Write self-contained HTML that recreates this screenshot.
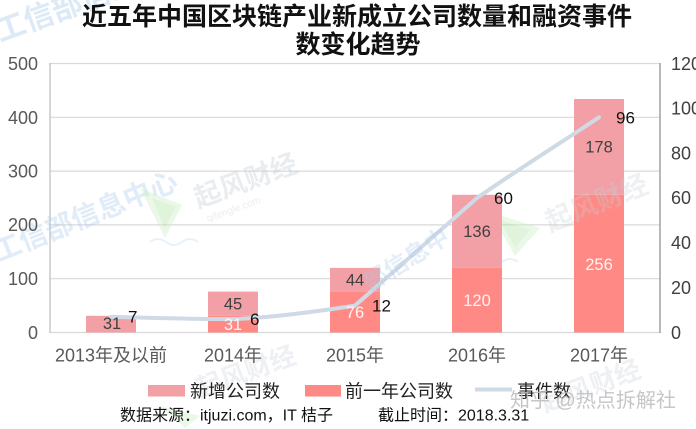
<!DOCTYPE html>
<html>
<head>
<meta charset="utf-8">
<style>
  html,body{margin:0;padding:0;background:#fff;}
  body{width:696px;height:429px;overflow:hidden;}
  svg{display:block;overflow:hidden;}
  text{font-family:"Liberation Sans","Noto Sans CJK SC",sans-serif;}
</style>
</head>
<body>
<svg width="696" height="429" viewBox="0 0 696 429" xmlns="http://www.w3.org/2000/svg">
  <rect width="696" height="429" fill="#ffffff"/>

  <!-- gridlines -->
  <g stroke="#d9d9d9" stroke-width="1.2">
    <line x1="50" y1="63.5" x2="660" y2="63.5"/>
    <line x1="50" y1="117.3" x2="660" y2="117.3"/>
    <line x1="50" y1="171.1" x2="660" y2="171.1"/>
    <line x1="50" y1="224.9" x2="660" y2="224.9"/>
    <line x1="50" y1="278.7" x2="660" y2="278.7"/>
    <line x1="50" y1="332.5" x2="660" y2="332.5"/>
  </g>
  <line x1="50" y1="63" x2="50" y2="333" stroke="#c8c8c8" stroke-width="1.5"/>
  <line x1="660" y1="63" x2="660" y2="333" stroke="#a0a0a0" stroke-width="1.5"/>

  <!-- watermarks (faint) -->
  <g opacity="0.4">
    <text x="0" y="42" font-size="30" font-weight="bold" fill="#a9c9ea" transform="rotate(-20 0 42)">工信部信息中心</text>
    <text x="-2" y="262" font-size="28" font-weight="bold" fill="#b3d0ee" transform="rotate(-22 -2 262)">工信部信息中心</text>
  </g>
  <g opacity="0.4">
    <polygon points="140,188 182,205 165,238" fill="#cdeec6"/>
    <polygon points="152,198 176,207 165,228" fill="#b2e2a8"/>
    <path d="M150,242 q8,-6 16,0 q8,6 16,0 q8,-6 16,0" fill="none" stroke="#bfe0f2" stroke-width="2"/>
    <polygon points="490,212 540,228 515,256" fill="#cdeec6"/>
    <polygon points="500,220 530,230 515,248" fill="#b2e2a8"/>
    <path d="M470,262 q8,-6 16,0 q8,6 16,0 q8,-6 16,0" fill="none" stroke="#bfe0f2" stroke-width="2"/>
    <polygon points="160,406 200,416 185,428" fill="#cdeec6"/>
  </g>
  <g opacity="0.35" fill="#c5ccd6">
    <text x="198" y="208" font-size="27" font-weight="bold" transform="rotate(-20 198 208)">起风财经</text>
    <text x="208" y="222" font-size="10" transform="rotate(-20 208 222)">qifengle.com</text>
  </g>

  <!-- title -->
  <text x="357" y="25" font-size="25" font-weight="bold" text-anchor="middle" fill="#111">近五年中国区块链产业新成立公司数量和融资事件</text>
  <text x="358" y="53" font-size="25" font-weight="bold" text-anchor="middle" fill="#111">数变化趋势</text>

  <!-- left axis labels -->
  <g font-size="18" fill="#595959" text-anchor="end">
    <text x="38" y="70">500</text>
    <text x="38" y="124">400</text>
    <text x="38" y="177.5">300</text>
    <text x="38" y="231">200</text>
    <text x="38" y="285">100</text>
    <text x="38" y="339">0</text>
  </g>
  <!-- right axis labels -->
  <g font-size="18" fill="#404040" text-anchor="start">
    <text x="671" y="70">120</text>
    <text x="671" y="114.5">100</text>
    <text x="671" y="159.5">80</text>
    <text x="671" y="204">60</text>
    <text x="671" y="249">40</text>
    <text x="671" y="294">20</text>
    <text x="671" y="339">0</text>
  </g>

  <!-- bars: 前一年公司数 -->
  <g fill="#ff8a85">
    <rect x="208" y="315.8" width="50" height="16.7"/>
    <rect x="330" y="291.6" width="50" height="40.9"/>
    <rect x="452" y="267.9" width="50" height="64.6"/>
    <rect x="574" y="194.8" width="50" height="137.7"/>
  </g>
  <!-- bars: 新增公司数 -->
  <g fill="#f2a0a5">
    <rect x="86" y="315.8" width="50" height="16.7"/>
    <rect x="208" y="291.6" width="50" height="24.2"/>
    <rect x="330" y="267.9" width="50" height="23.7"/>
    <rect x="452" y="194.8" width="50" height="73.1"/>
    <rect x="574" y="99" width="50" height="95.8"/>
  </g>

  <!-- event line -->
  <path d="M111,316.8 C131,317.2 200,319.5 233,319 C270,318 320,311 355,305.6 L477,198 C520,168 570,137 599,117.3"
        fill="none" stroke="#d0d9e6" stroke-width="4" stroke-linecap="round" stroke-linejoin="round"/>

  <!-- overlay watermarks -->
  <g opacity="0.3">
    <text x="370" y="292" font-size="24" font-weight="bold" fill="#a9c9ea" transform="rotate(-32 370 292)">部信息中</text>
  </g>
  <g opacity="0.3" fill="#c5ccd6">
    <text x="550" y="232" font-size="27" font-weight="bold" transform="rotate(-22 550 232)">起风财经</text>
    <text x="200" y="398" font-size="26" font-weight="bold" transform="rotate(-20 200 398)">起风财经</text>
    <text x="545" y="412" font-size="26" font-weight="bold" transform="rotate(-20 545 412)">起风财经</text>
  </g>

  <!-- bar labels -->
  <g font-size="16.5" text-anchor="middle" fill="#404040">
    <text x="112" y="329">31</text>
    <text x="233" y="309.5">45</text>
    <text x="355" y="285.5">44</text>
    <text x="477" y="237">136</text>
    <text x="599" y="152.5">178</text>
  </g>
  <g font-size="16.5" text-anchor="middle" fill="#fff4f2">
    <text x="233" y="330">31</text>
    <text x="355" y="318">76</text>
    <text x="477" y="306">120</text>
    <text x="599" y="270">256</text>
  </g>

  <!-- event labels -->
  <g font-size="17" fill="#111" text-anchor="start">
    <text x="128" y="322.5">7</text>
    <text x="250" y="325">6</text>
    <text x="372" y="311.5">12</text>
    <text x="494" y="204">60</text>
    <text x="616" y="123.5">96</text>
  </g>

  <!-- category labels -->
  <g font-size="18" fill="#595959" text-anchor="middle">
    <text x="111" y="361.5">2013年及以前</text>
    <text x="233" y="361.5">2014年</text>
    <text x="355" y="361.5">2015年</text>
    <text x="477" y="361.5">2016年</text>
    <text x="599" y="361.5">2017年</text>
  </g>

  <!-- legend -->
  <rect x="148" y="385" width="37" height="11.5" fill="#f2a0a5"/>
  <text x="190" y="397.5" font-size="18" fill="#222">新增公司数</text>
  <rect x="305" y="385" width="36" height="11.5" fill="#ff8a85"/>
  <text x="345" y="397.5" font-size="18" fill="#222">前一年公司数</text>
  <line x1="475" y1="389.5" x2="512" y2="389.5" stroke="#d0d9e6" stroke-width="4"/>
  <text x="517" y="397.5" font-size="18" fill="#222">事件数</text>

  <!-- source -->
  <text x="120" y="420.5" font-size="16" fill="#111">数据来源：itjuzi.com，IT 桔子</text>
  <text x="378" y="420.5" font-size="16" fill="#111">截止时间：2018.3.31</text>

  <text x="510" y="407" font-size="20" fill="#bdbdbd" opacity="0.85">知乎 @热点拆解社</text>
</svg>
</body>
</html>
